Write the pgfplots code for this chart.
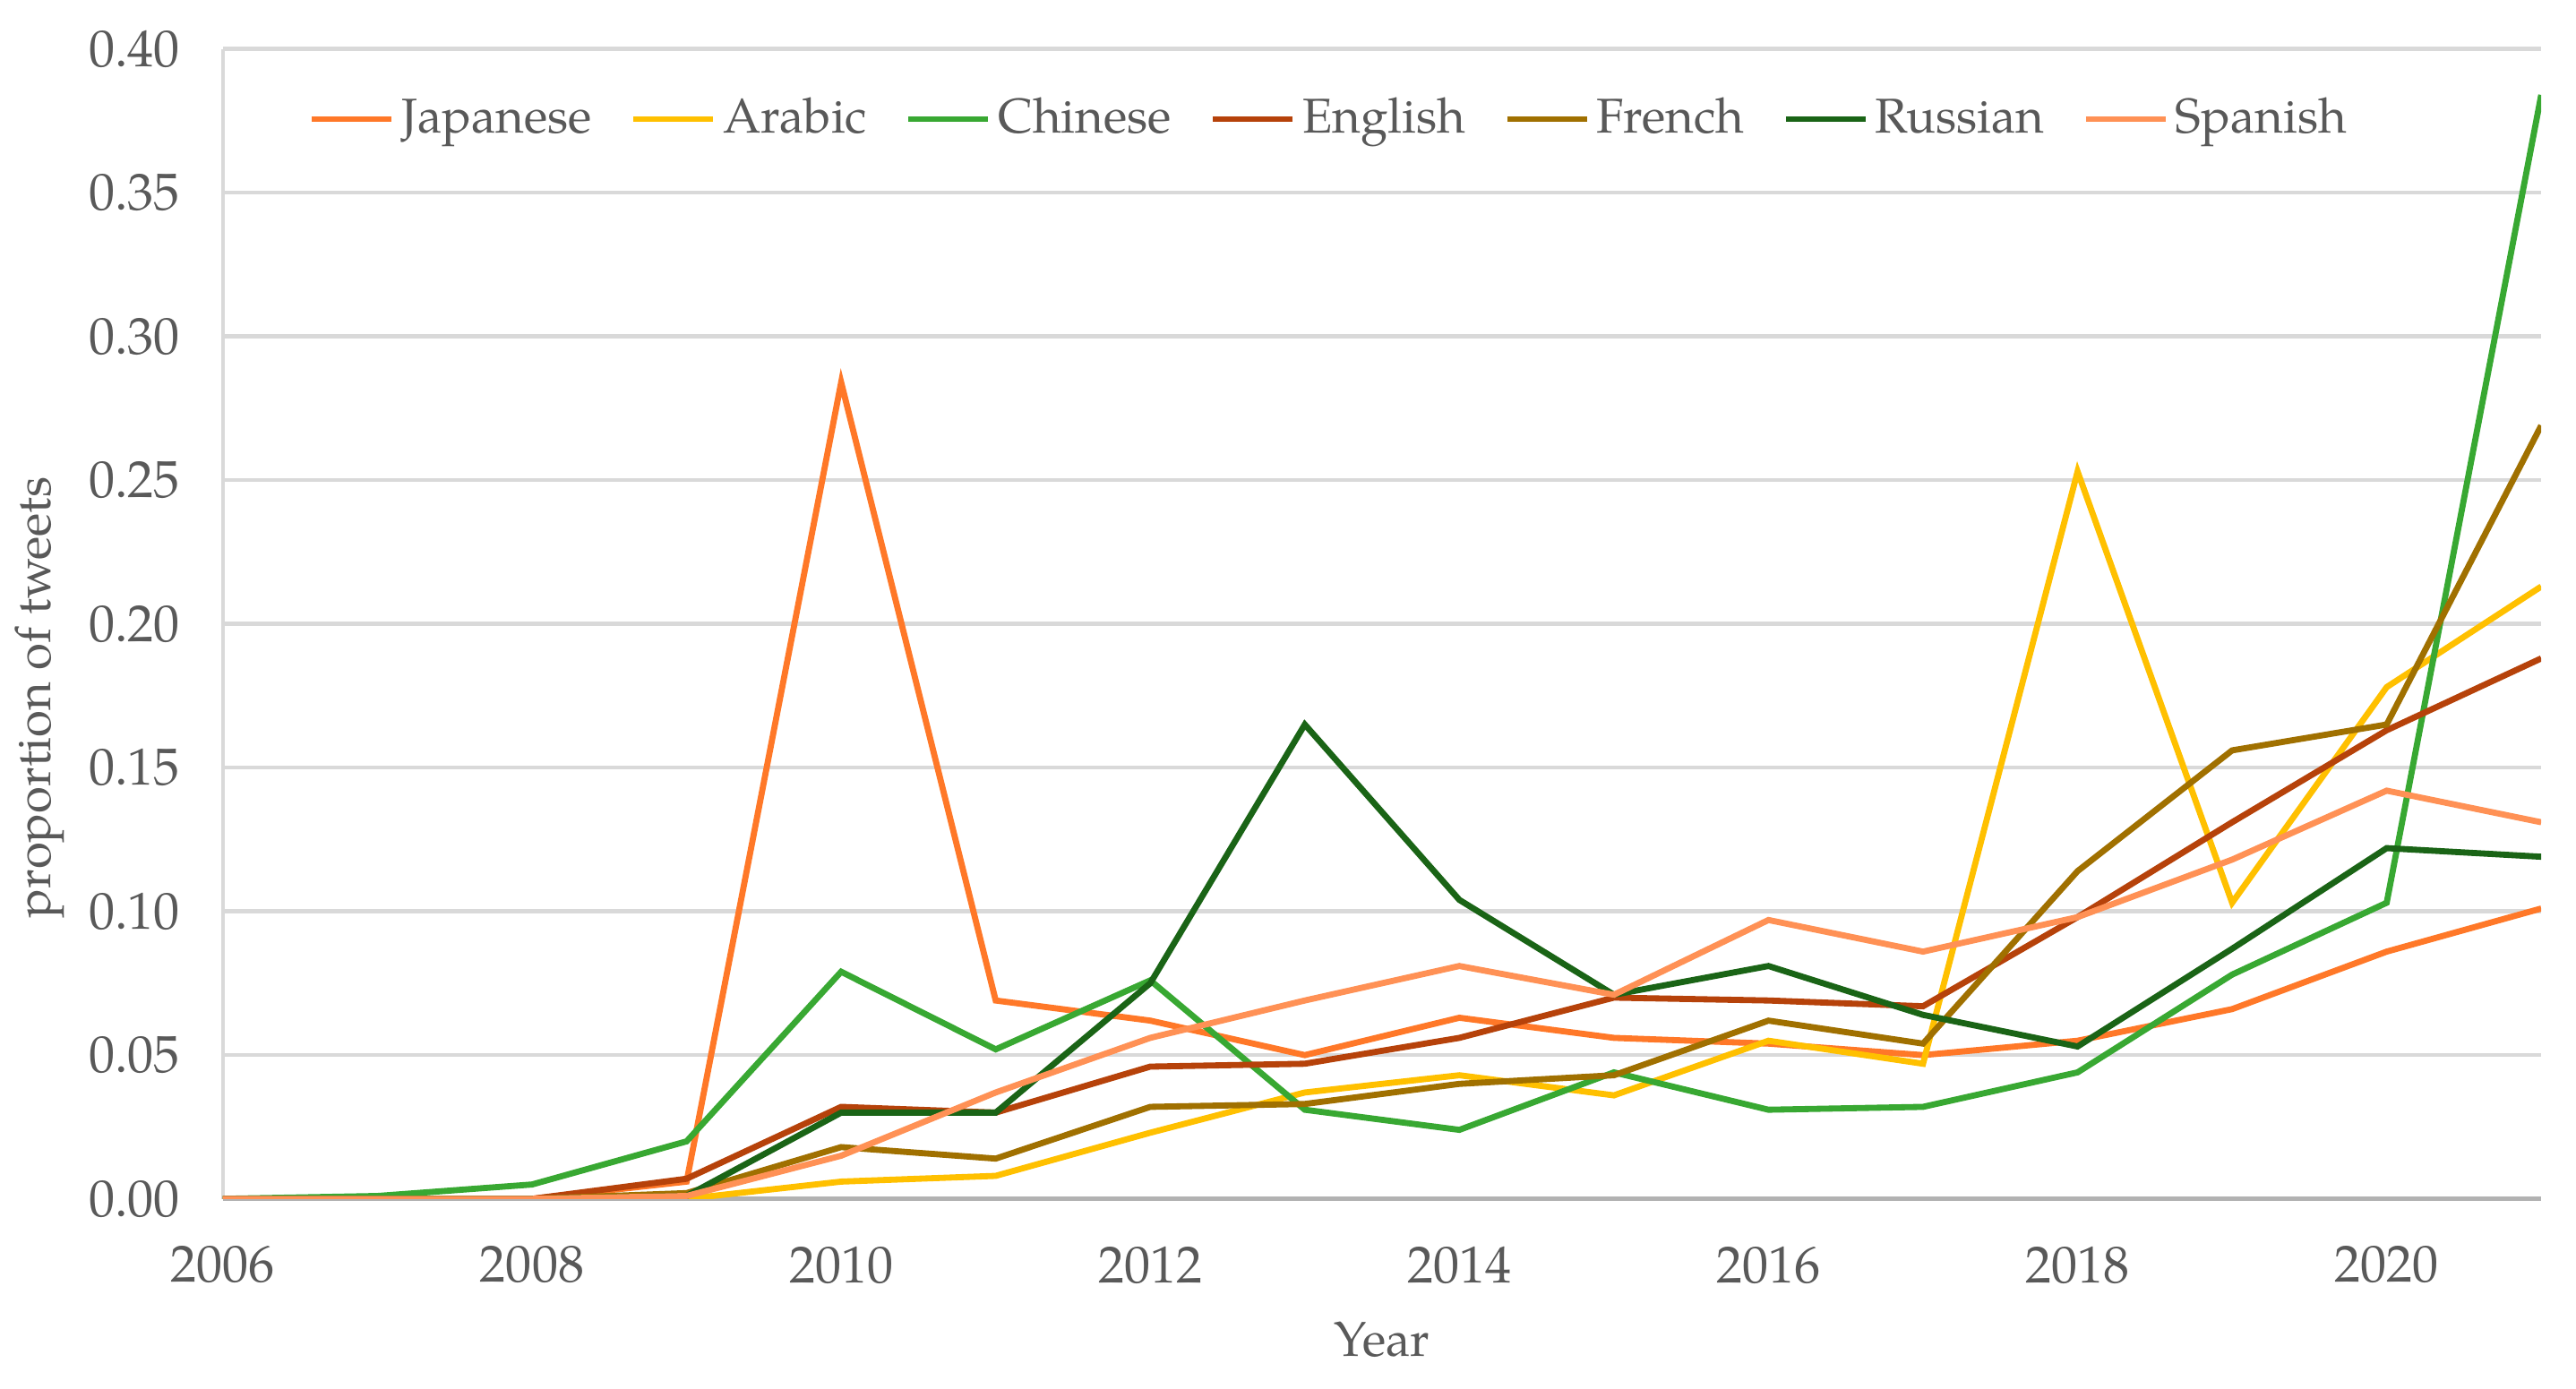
\documentclass[border=0pt]{standalone}
\usepackage{pgfplots}
\pgfplotsset{compat=1.18}
\usepackage{fontspec}
\setmainfont{texgyrepagella}[Extension=.otf, UprightFont=*-regular, BoldFont=*-bold, ItalicFont=*-italic]
\definecolor{cJap}{RGB}{255,120,40}
\definecolor{cAra}{RGB}{255,192,0}
\definecolor{cChi}{RGB}{56,168,50}
\definecolor{cEng}{RGB}{182,66,10}
\definecolor{cFre}{RGB}{160,112,0}
\definecolor{cRus}{RGB}{26,100,22}
\definecolor{cSpa}{RGB}{255,145,85}
\definecolor{txt}{RGB}{89,89,89}
\definecolor{gridc}{RGB}{217,217,217}
\pgfplotsset{shortline/.style={legend image code/.code={\draw[##1] (0cm,0cm) -- (0.62cm,0cm);}}}
\begin{document}
\begin{tikzpicture}
\begin{axis}[
    scale only axis, width=18.0cm, height=8.93cm,
    xmin=2006, xmax=2021, ymin=0, ymax=0.40,
    xtick={2006,2008,...,2020}, ytick={0,0.05,...,0.401},
    axis x line*=bottom, axis y line*=left,
    axis line style={gridc, line width=0.9pt},
    x axis line style={-, color=black!30}, y axis line style={-},
    ymajorgrids, grid style={gridc, line width=0.9pt},
    major tick length=0pt,
    xticklabel style={/pgf/number format/1000 sep={}},
    yticklabel style={/pgf/number format/fixed, /pgf/number format/fixed zerofill, /pgf/number format/precision=2},
    /pgf/number format/assume math mode=true,
    tick label style={font=\fontsize{11.5}{13}\selectfont, text=txt},
    label style={font=\fontsize{10.8}{13}\selectfont, text=txt},
    yticklabel shift=6pt, xticklabel shift=7pt,
    xlabel={Year}, ylabel={proportion of tweets},
    ylabel shift=-1.5pt, xlabel shift=1.5pt,
    every axis y label/.append style={at={(ticklabel cs:0.436)}},
    legend columns=7,
    legend style={at={(0.478,0.939)}, anchor=center, draw=none, fill=none,
        font=\fontsize{10.8}{13}\selectfont, text=txt,
        nodes={inner xsep=1.5pt},
        /tikz/every even column/.append style={column sep=7pt}},
    shortline,
    every axis plot/.append style={line width=1.35pt, mark=none},
]
\addplot[cJap] coordinates {(2006,0)(2007,0)(2008,0)(2009,0.006)(2010,0.284)(2011,0.069)(2012,0.062)(2013,0.050)(2014,0.063)(2015,0.056)(2016,0.054)(2017,0.050)(2018,0.055)(2019,0.066)(2020,0.086)(2021,0.101)};
\addplot[cAra] coordinates {(2006,0)(2007,0)(2008,0)(2009,0.000)(2010,0.006)(2011,0.008)(2012,0.023)(2013,0.037)(2014,0.043)(2015,0.036)(2016,0.055)(2017,0.047)(2018,0.253)(2019,0.103)(2020,0.178)(2021,0.213)};
\addplot[cChi] coordinates {(2006,0)(2007,0.001)(2008,0.005)(2009,0.020)(2010,0.079)(2011,0.052)(2012,0.076)(2013,0.031)(2014,0.024)(2015,0.044)(2016,0.031)(2017,0.032)(2018,0.044)(2019,0.078)(2020,0.103)(2021,0.384)};
\addplot[cEng] coordinates {(2006,0)(2007,0)(2008,0)(2009,0.007)(2010,0.032)(2011,0.030)(2012,0.046)(2013,0.047)(2014,0.056)(2015,0.070)(2016,0.069)(2017,0.067)(2018,0.098)(2019,0.131)(2020,0.163)(2021,0.188)};
\addplot[cFre] coordinates {(2006,0)(2007,0)(2008,0)(2009,0.002)(2010,0.018)(2011,0.014)(2012,0.032)(2013,0.033)(2014,0.040)(2015,0.043)(2016,0.062)(2017,0.054)(2018,0.114)(2019,0.156)(2020,0.165)(2021,0.269)};
\addplot[cRus] coordinates {(2006,0)(2007,0)(2008,0)(2009,0.001)(2010,0.030)(2011,0.030)(2012,0.075)(2013,0.165)(2014,0.104)(2015,0.071)(2016,0.081)(2017,0.064)(2018,0.053)(2019,0.087)(2020,0.122)(2021,0.119)};
\addplot[cSpa] coordinates {(2006,0)(2007,0)(2008,0)(2009,0.001)(2010,0.015)(2011,0.037)(2012,0.056)(2013,0.069)(2014,0.081)(2015,0.071)(2016,0.097)(2017,0.086)(2018,0.098)(2019,0.118)(2020,0.142)(2021,0.131)};
\legend{Japanese, Arabic, Chinese, English, French, Russian, Spanish}
\end{axis}
% white margins as in the reference
\path ([xshift=-1.72cm,yshift=0.38cm]current axis.north west) rectangle ([xshift=0.27cm,yshift=-1.47cm]current axis.south east);
\end{tikzpicture}
\end{document}
